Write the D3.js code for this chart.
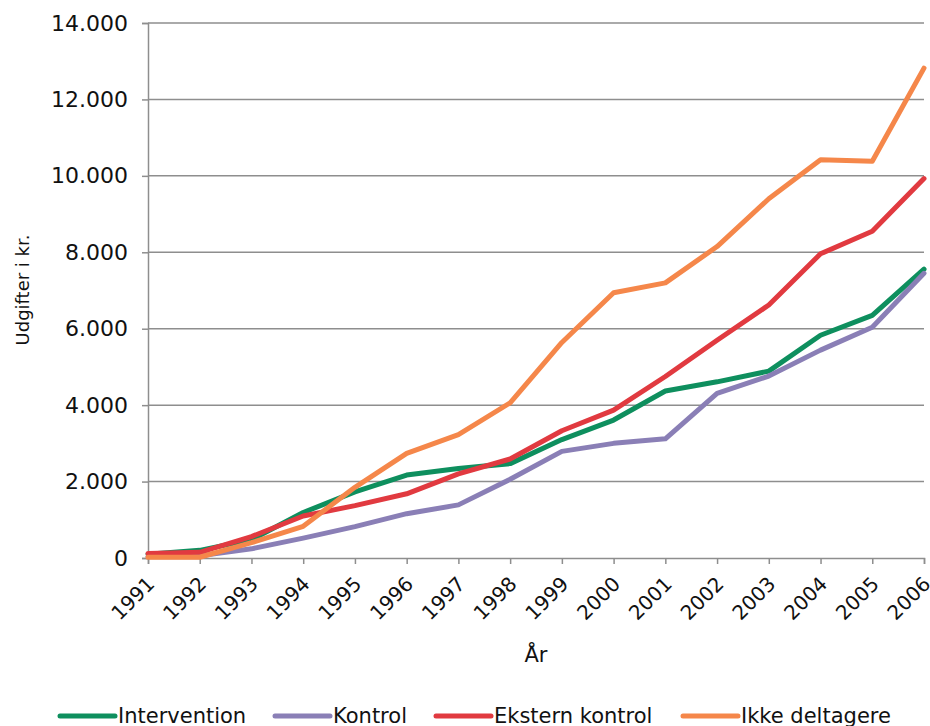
<!DOCTYPE html>
<html>
<head>
<meta charset="utf-8">
<script src="https://cdn.jsdelivr.net/npm/d3@7"></script>
<style>
  html, body { margin: 0; padding: 0; background: #fff; }
  svg text { font-family: "DejaVu Sans", Verdana, sans-serif; fill: #111; }
</style>
</head>
<body>
<svg id="chart" width="930" height="726"></svg>
<script>
// Years on the x axis
const years = [1991, 1992, 1993, 1994, 1995, 1996, 1997, 1998, 1999, 2000, 2001, 2002, 2003, 2004, 2005, 2006];

// Expenditure (kr.) per group and year
const intervention = [100, 200, 480, 1190, 1730, 2170, 2340, 2470, 3100, 3610, 4370, 4610, 4890, 5830, 6350, 7560];
const kontrol      = [40, 60, 240, 520, 820, 1160, 1390, 2060, 2790, 3000, 3120, 4310, 4760, 5440, 6040, 7450];
const eksternKontrol = [120, 150, 560, 1100, 1370, 1680, 2200, 2590, 3330, 3870, 4750, 5700, 6620, 7960, 8550, 9930];
const ikkeDeltagere  = [20, 20, 400, 830, 1850, 2740, 3230, 4060, 5640, 6940, 7200, 8150, 9400, 10420, 10380, 12820];

const seriesNames = ["Intervention", "Kontrol", "Ekstern kontrol", "Ikke deltagere"];
const seriesValues = [intervention, kontrol, eksternKontrol, ikkeDeltagere];
const seriesColors = ["#0e8f5e", "#8a7fb6", "#e13a40", "#f5874a"];

const yTicks = [0, 2000, 4000, 6000, 8000, 10000, 12000, 14000];

const svg = d3.select("#chart");
const plotLeft = 148, plotRight = 924, plotTop = 23, plotBottom = 558;

const x = d3.scaleLinear().domain([1991, 2006]).range([plotLeft, plotRight]);
const y = d3.scaleLinear().domain([0, 14000]).range([plotBottom, plotTop]);

const fmt = v => d3.format(",")(v).replace(/,/g, ".");
const gridColor = "#8e8e8e";

// Horizontal gridlines
svg.append("g")
  .selectAll("line")
  .data(yTicks.filter(t => t > 0))
  .join("line")
  .attr("x1", plotLeft).attr("x2", plotRight)
  .attr("y1", d => y(d)).attr("y2", d => y(d))
  .attr("stroke", gridColor).attr("stroke-width", 1.5);

// Y axis
const yAxis = svg.append("g")
  .attr("transform", `translate(${plotLeft},0)`)
  .call(d3.axisLeft(y).tickValues(yTicks).tickFormat(fmt).tickSize(6).tickPadding(14));
yAxis.select(".domain").attr("stroke", gridColor).attr("stroke-width", 1.5);
yAxis.selectAll(".tick line").attr("stroke", gridColor).attr("stroke-width", 1.5);
yAxis.selectAll(".tick text").style("font-size", "22px").attr("fill", "#111");

// X axis
const xAxis = svg.append("g")
  .attr("transform", `translate(0,${plotBottom})`)
  .call(d3.axisBottom(x).tickValues(years).tickFormat(d3.format("d")).tickSize(6));
xAxis.select(".domain").attr("stroke", gridColor).attr("stroke-width", 1.5);
xAxis.selectAll(".tick line").attr("stroke", gridColor).attr("stroke-width", 1.5);
xAxis.selectAll(".tick text")
  .style("font-size", "20px")
  .attr("fill", "#111")
  .attr("text-anchor", "end")
  .attr("dy", "0")
  .attr("transform", "translate(1,21) rotate(-45)");

// Axis titles
svg.append("text")
  .attr("transform", "translate(29,290) rotate(-90)")
  .attr("text-anchor", "middle")
  .style("font-size", "18px")
  .text("Udgifter i kr.");

svg.append("text")
  .attr("x", (plotLeft + plotRight) / 2)
  .attr("y", 662)
  .attr("text-anchor", "middle")
  .style("font-size", "21px")
  .text("År");

// Series lines
const line = d3.line()
  .x((d, i) => x(years[i]))
  .y(d => y(d));

svg.append("g")
  .selectAll("path")
  .data(seriesValues)
  .join("path")
  .attr("d", d => line(d))
  .attr("fill", "none")
  .attr("stroke", (d, i) => seriesColors[i])
  .attr("stroke-width", 5)
  .attr("stroke-linejoin", "round")
  .attr("stroke-linecap", "round");

// Legend
const legendX = [60, 275, 436, 683];
const legend = svg.append("g")
  .selectAll("g")
  .data(seriesNames)
  .join("g")
  .attr("transform", (d, i) => `translate(${legendX[i]},716)`);
legend.append("line")
  .attr("x1", 0).attr("x2", 55)
  .attr("stroke", (d, i) => seriesColors[i])
  .attr("stroke-width", 5)
  .attr("stroke-linecap", "round");
legend.append("text")
  .attr("x", 58)
  .attr("y", 7)
  .style("font-size", "21px")
  .text(d => d);
</script>
</body>
</html>
